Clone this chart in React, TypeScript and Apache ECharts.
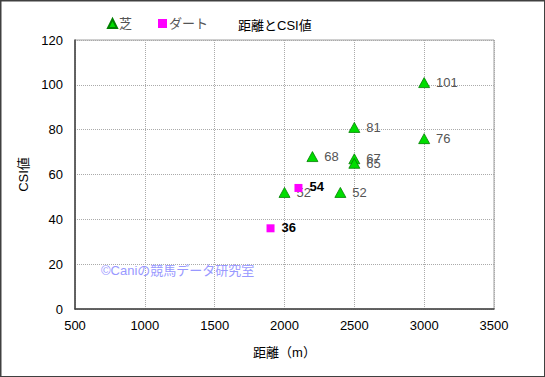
import React, { useEffect, useRef } from "react";
import * as echarts from "echarts";

const turfDistance = [2000, 2200, 2400, 2500, 2500, 2500, 3000, 3000];
const turfCsi = [52, 68, 52, 81, 67, 65, 101, 76];
const dirtDistance = [2100, 1900];
const dirtCsi = [54, 36];
const xTicks = [500, 3500, 500];
const yTicks = [0, 120, 20];

const FONT = "'Liberation Sans', 'Noto Sans CJK JP', sans-serif";

export default function App() {
  const ref = useRef<HTMLDivElement>(null);
  useEffect(() => {
    document.body.style.margin = "0";
    const chart = echarts.init(ref.current!, null, { renderer: "svg" });
    chart.setOption({
      animation: false,
      backgroundColor: "#ffffff",
      textStyle: { fontFamily: FONT },
      title: {
        text: "距離とCSI値",
        left: 233,
        top: 14,
        textStyle: { fontSize: 13, fontWeight: "normal", color: "#000", fontFamily: FONT },
      },
      legend: {
        left: 102,
        top: 12,
        itemWidth: 9,
        itemHeight: 9,
        itemGap: 26,
        textStyle: { color: "#555", fontSize: 13, fontFamily: FONT, padding: [0, 0, 0, -3] },
        data: [
          { name: "芝", icon: "triangle" },
          { name: "ダート", icon: "rect" },
        ],
      },
      grid: {
        left: 75,
        top: 40,
        width: 419,
        height: 269,
        show: true,
        borderColor: "#a0a0a0",
        borderWidth: 1,
        backgroundColor: "transparent",
      },
      xAxis: {
        type: "value",
        min: xTicks[0],
        max: xTicks[1],
        interval: xTicks[2],
        name: "距離（m）",
        nameLocation: "middle",
        nameGap: 37,
        nameTextStyle: { fontSize: 13, color: "#000", fontFamily: FONT },
        axisLine: { show: true, lineStyle: { color: "#404040", width: 1.5 } },
        axisTick: { show: false },
        axisLabel: { color: "#000", fontSize: 13, margin: 10, fontFamily: FONT, formatter: (v: number) => String(v) },
        splitLine: { show: true, lineStyle: { color: "#aaaaaa", type: [1, 1], width: 1 } },
      },
      yAxis: {
        type: "value",
        min: yTicks[0],
        max: yTicks[1],
        interval: yTicks[2],
        name: "CSI値",
        nameLocation: "middle",
        nameGap: 42,
        nameRotate: 90,
        nameTextStyle: { fontSize: 13, color: "#000", fontFamily: FONT },
        axisLine: { show: true, lineStyle: { color: "#404040", width: 1.5 } },
        axisTick: { show: false },
        axisLabel: { color: "#000", fontSize: 13, margin: 12, fontFamily: FONT },
        splitLine: { show: true, lineStyle: { color: "#aaaaaa", type: [1, 1], width: 1 } },
      },
      series: [
        {
          name: "芝",
          type: "scatter",
          symbol: "triangle",
          symbolSize: [11, 10],
          itemStyle: { color: "#00dd00", borderColor: "#008000", borderWidth: 0.8, opacity: 1 },
          data: turfDistance.map((d, i) => [d, turfCsi[i]]),
          label: {
            show: true,
            position: "right",
            distance: 6,
            color: "#555",
            fontSize: 13,
            fontFamily: FONT,
            formatter: (p: any) => String(p.value[1]),
          },
          z: 3,
        },
        {
          name: "ダート",
          type: "scatter",
          symbol: "rect",
          symbolSize: 8,
          itemStyle: { color: "#ff00ff", opacity: 1 },
          data: dirtDistance.map((d, i) => [d, dirtCsi[i]]),
          label: {
            show: true,
            position: "right",
            distance: 7,
            offset: [0, -1],
            color: "#000",
            fontSize: 13,
            fontWeight: "bold",
            fontFamily: FONT,
            formatter: (p: any) => String(p.value[1]),
          },
          z: 4,
        },
      ],
      graphic: [
        {
          type: "rect",
          left: 0,
          top: 0,
          shape: { width: 544, height: 376 },
          style: { fill: "transparent", stroke: "#404040", lineWidth: 1.5 },
          silent: true,
          z: 100,
        },
        {
          type: "text",
          left: 101,
          top: 264,
          style: {
            text: "©Caniの競馬データ研究室",
            fill: "#9999ff",
            fontSize: 13,
            fontFamily: FONT,
          },
          z: 50,
        },
      ],
    });
    return () => chart.dispose();
  }, []);
  return <div ref={ref} style={{ position: "absolute", left: 0, top: 0, width: 545, height: 377 }} />;
}
